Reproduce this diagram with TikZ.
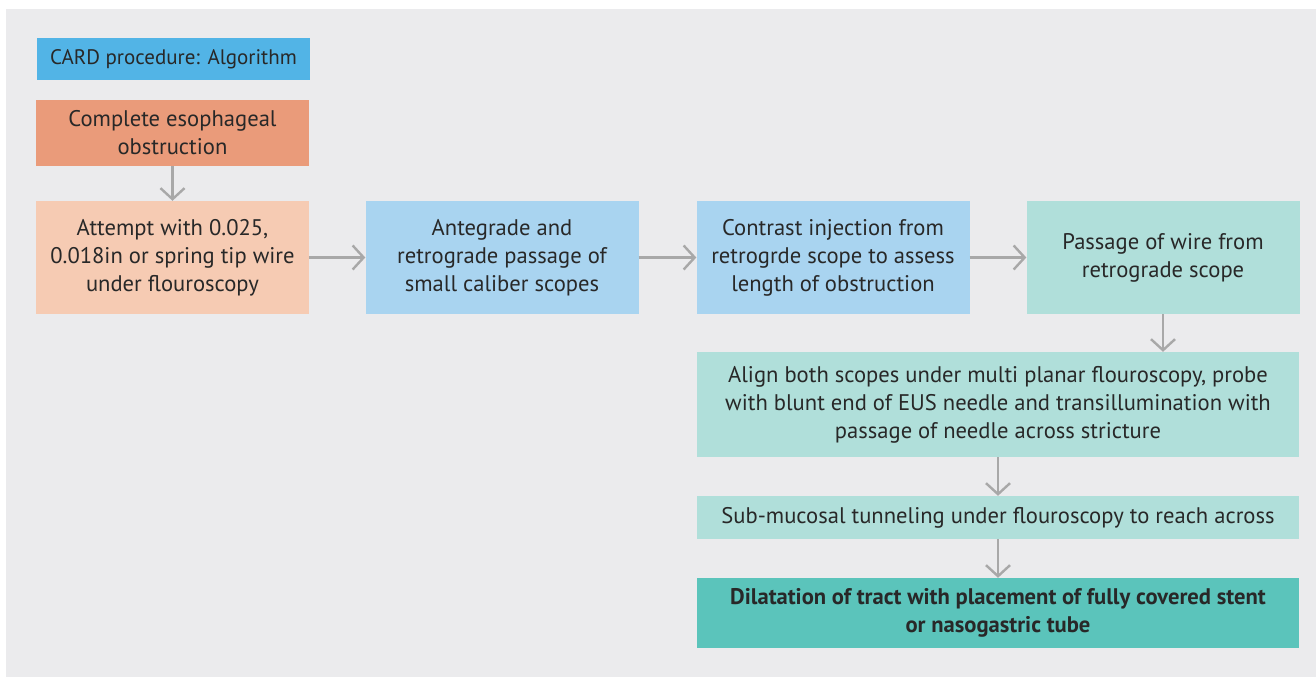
\documentclass[tikz,border=0pt]{standalone}
\usepackage{fontspec}
\setmainfont{PT Sans}
\usetikzlibrary{arrows.meta}
\definecolor{bgshade}{RGB}{235,235,237}
\definecolor{titleblue}{RGB}{82,180,230}
\definecolor{salmon}{RGB}{234,155,122}
\definecolor{peach}{RGB}{246,203,179}
\definecolor{skyblue}{RGB}{169,212,240}
\definecolor{paleteal}{RGB}{176,223,218}
\definecolor{darkteal}{RGB}{91,196,187}
\definecolor{arrowgray}{RGB}{168,168,168}
\definecolor{ink}{RGB}{40,40,40}
\tikzset{
  box/.style={fill, inner sep=0pt, align=center, text=ink,
              font=\fontsize{22.6}{28}\selectfont},
  small/.style={box, minimum width=273pt},
  wide/.style={box, minimum width=602pt},
  flow/.style={-{Straight Barb[length=11pt,width=24pt,line width=2.4pt]},
               line width=2.4pt, draw=arrowgray},
}

\begin{document}
\begin{tikzpicture}[x=1pt, y=1pt]
  \useasboundingbox (0,0) rectangle (1316,-677);
  \fill[bgshade] (6,-9) rectangle (1316,-677);
  % left column
  \node[small, fill=titleblue, minimum height=42pt, font=\fontsize{21}{24}\selectfont]
    (title) at (173.5,-59) {CARD procedure: Algorithm};
  \node[small, fill=salmon, minimum height=66pt] (obst) at (172.5,-133)
    {Complete esophageal\\obstruction};
  \node[small, fill=peach, minimum height=113pt] (attempt) at (172.5,-257.5)
    {Attempt with 0.025,\\0.018in or spring tip wire\\under flouroscopy};
  % top row
  \node[small, fill=skyblue, minimum height=113pt] (ante) at (502,-257.5)
    {Antegrade and\\retrograde passage of\\small caliber scopes};
  \node[small, fill=skyblue, minimum height=113pt] (contrast) at (833,-257.5)
    {Contrast injection from\\retrogrde scope to assess\\length of obstruction};
  \node[small, fill=paleteal, minimum height=113pt] (wire) at (1163,-257.5)
    {Passage of wire from\\retrograde scope};
  % right column
  \node[wide, fill=paleteal, minimum height=105pt] (align) at (998,-404.5)
    {Align both scopes under multi planar flouroscopy, probe\\with blunt end of EUS needle and transillumination with\\passage of needle across stricture};
  \node[wide, fill=paleteal, minimum height=43pt] (tunnel) at (998,-517.5)
    {Sub-mucosal tunneling under flouroscopy to reach across};
  \node[wide, fill=darkteal, minimum height=70pt, font=\fontsize{22.6}{28}\selectfont\bfseries]
    (dilat) at (998,-613)
    {Dilatation of tract with placement of fully covered stent\\or nasogastric tube};

  \draw[flow] (obst) -- (attempt);
  \draw[flow] (attempt) -- (ante);
  \draw[flow] (ante) -- (contrast);
  \draw[flow] (contrast) -- (wire);
  \draw[flow] (wire.south) -- (wire.south |- align.north);
  \draw[flow] (align) -- (tunnel);
  \draw[flow] (tunnel) -- (dilat);
\end{tikzpicture}
\end{document}
